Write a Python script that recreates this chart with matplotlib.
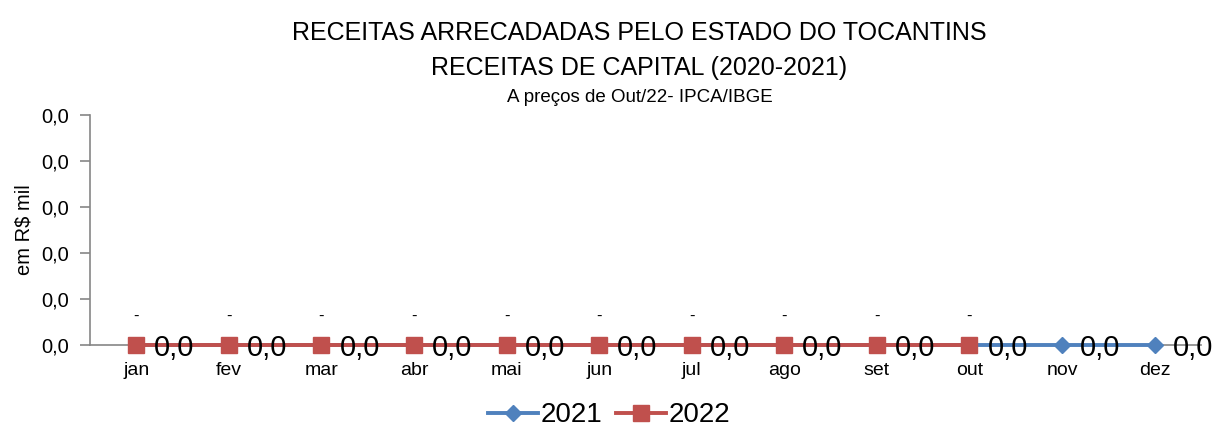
import matplotlib
matplotlib.use("Agg")
import matplotlib.pyplot as plt
from matplotlib.ticker import FuncFormatter, MultipleLocator

plt.rcParams["font.family"] = ["Liberation Sans", "DejaVu Sans"]

# data
months = ["jan", "fev", "mar", "abr", "mai", "jun", "jul", "ago", "set", "out", "nov", "dez"]
receitas_2021 = [0.0, 0.0, 0.0, 0.0, 0.0, 0.0, 0.0, 0.0, 0.0, 0.0, 0.0, 0.0]
receitas_2022 = [0.0, 0.0, 0.0, 0.0, 0.0, 0.0, 0.0, 0.0, 0.0, 0.0]

BLUE = "#4F81BD"
RED = "#C0504D"


def br_fmt(v, pos=None):
    return f"{v:.1f}".replace(".", ",")


fig = plt.figure(figsize=(12.18, 4.26), dpi=100)
ax = fig.add_axes([0.0739, 0.190, 0.912, 0.540])

x21 = list(range(len(receitas_2021)))
x22 = list(range(len(receitas_2022)))

ax.plot(x21, receitas_2021, color=BLUE, lw=2.8, marker="D", ms=8.5,
        label="2021", zorder=3, clip_on=False)
ax.plot(x22, receitas_2022, color=RED, lw=2.8, marker="s", ms=11,
        label="2022", zorder=4, clip_on=False)

# data labels
for xi, v in zip(x21, receitas_2021):
    ax.annotate(br_fmt(v), (xi, v), xytext=(13, -2), textcoords="offset points",
                ha="left", va="center", fontsize=21, color="black", zorder=5,
                annotation_clip=False)
for xi, v in zip(x22, receitas_2022):
    ax.annotate("-", (xi, v), xytext=(0, 21), textcoords="offset points",
                ha="center", va="center", fontsize=12, color="black", zorder=5)

ax.set_xlim(-0.5, len(months) - 0.5)
ax.set_ylim(0, 0.05)
ax.yaxis.set_major_locator(MultipleLocator(0.01))
ax.yaxis.set_major_formatter(FuncFormatter(br_fmt))
ax.set_xticks(x21)
ax.set_xticklabels(months)

for side in ("top", "right"):
    ax.spines[side].set_visible(False)
for side in ("left", "bottom"):
    ax.spines[side].set_color("#868686")
    ax.spines[side].set_linewidth(1.2)
ax.tick_params(axis="y", direction="out", length=7, width=1.2, color="#868686",
               labelsize=14.5, pad=8)
ax.tick_params(axis="x", length=0, labelsize=14, pad=12)
ax.set_ylabel("em R$ mil", fontsize=14.5, labelpad=6)

fig.text(0.525, 0.922, "RECEITAS ARRECADADAS PELO ESTADO DO TOCANTINS",
         ha="center", va="center", fontsize=18)
fig.text(0.525, 0.840, "RECEITAS DE CAPITAL (2020-2021)",
         ha="center", va="center", fontsize=18)
fig.text(0.525, 0.770, "A preços de Out/22- IPCA/IBGE",
         ha="center", va="center", fontsize=13.5)

fig.legend(loc="center", bbox_to_anchor=(0.5, 0.025), ncol=2, frameon=False,
           fontsize=20, handlelength=1.8, handletextpad=0.1, columnspacing=0.5)

fig.savefig("out.png", dpi=100)
